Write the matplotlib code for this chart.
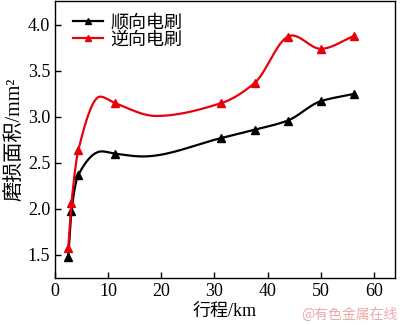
import numpy as np
import matplotlib.pyplot as plt

# Wear area versus sliding distance for forward / reverse brushing
distance_km = [2.5, 3.1, 4.4, 11.3, 31.3, 37.6, 43.8, 50.0, 56.3]
forward_area = [1.48, 1.98, 2.37, 2.60, 2.77, 2.86, 2.96, 3.17, 3.25]
reverse_area = [1.58, 2.06, 2.64, 3.15, 3.15, 3.37, 3.87, 3.74, 3.88]
series_names = ['顺向电刷', '逆向电刷']

# extra turning points of the fitted curves (hump and trough after the run-in)
forward_curve_x = [2.5, 3.1, 4.4, 8.8, 11.3, 16.5, 31.3, 37.6, 43.8, 50.0, 56.3]
forward_curve_y = [1.48, 1.98, 2.37, 2.625, 2.60, 2.57, 2.77, 2.86, 2.96, 3.17, 3.25]
reverse_curve_x = [2.5, 3.1, 4.4, 8.5, 11.3, 19.0, 31.3, 37.6, 43.8, 44.6, 50.0, 56.3]
reverse_curve_y = [1.58, 2.06, 2.64, 3.22, 3.15, 3.01, 3.15, 3.37, 3.87, 3.885, 3.74, 3.88]


def pchip(x, y, n=600):
    # shape-preserving piecewise cubic (Fritsch-Carlson)
    x = np.asarray(x, float)
    y = np.asarray(y, float)
    h = np.diff(x)
    delta = np.diff(y) / h
    d = np.zeros_like(y)
    for i in range(1, len(x) - 1):
        if delta[i - 1] * delta[i] > 0:
            w1 = 2 * h[i] + h[i - 1]
            w2 = h[i] + 2 * h[i - 1]
            d[i] = (w1 + w2) / (w1 / delta[i - 1] + w2 / delta[i])
    d[0] = delta[0]
    d[-1] = delta[-1]
    xs = np.linspace(x[0], x[-1], n)
    k = np.clip(np.searchsorted(x, xs) - 1, 0, len(x) - 2)
    t = (xs - x[k]) / h[k]
    h00 = 2 * t ** 3 - 3 * t ** 2 + 1
    h10 = t ** 3 - 2 * t ** 2 + t
    h01 = -2 * t ** 3 + 3 * t ** 2
    h11 = t ** 3 - t ** 2
    ys = h00 * y[k] + h10 * h[k] * d[k] + h01 * y[k + 1] + h11 * h[k] * d[k + 1]
    return xs, ys


plt.rcParams['font.family'] = ['Liberation Serif', 'Noto Sans CJK SC']

fig = plt.figure(figsize=(4, 3.25), dpi=100)
ax = fig.add_axes([0.1375, 0.145, 0.85, 0.852])

series = [(forward_curve_x, forward_curve_y, forward_area, 'black', series_names[0]),
          (reverse_curve_x, reverse_curve_y, reverse_area, '#e8000b', series_names[1])]
for cx, cy, vals, color, name in series:
    xs, ys = pchip(cx, cy)
    ax.plot(xs, ys, color=color, lw=1.6)
    ax.plot(distance_km, vals, ls='none', marker='^', ms=6, color=color)
    ax.plot([], [], color=color, lw=1.6, marker='^', ms=4.5, label=name)

ax.set_xlim(0, 64)
ax.set_ylim(1.25, 4.26)
ax.set_xticks([0, 10, 20, 30, 40, 50, 60])
ax.set_yticks([1.5, 2.0, 2.5, 3.0, 3.5, 4.0])
ax.tick_params(direction='in', labelsize=13, length=4, width=1)
for s in ax.spines.values():
    s.set_linewidth(1.0)

ax.set_xlabel('行程/km', fontsize=13, labelpad=2)
ax.set_ylabel('磨损面积/mm²', fontsize=14.5, labelpad=2)

ax.legend(loc='upper left', frameon=False, fontsize=13, handlelength=1.7,
          handletextpad=0.4, labelspacing=0.0, borderaxespad=0.2,
          bbox_to_anchor=(0.02, 0.99))

fig.text(0.995, 0.01, '@有色金属在线', ha='right', va='bottom', fontsize=10,
         color='#f0a8a8', family=['Noto Sans CJK SC'])

fig.savefig('out.png', dpi=100)
